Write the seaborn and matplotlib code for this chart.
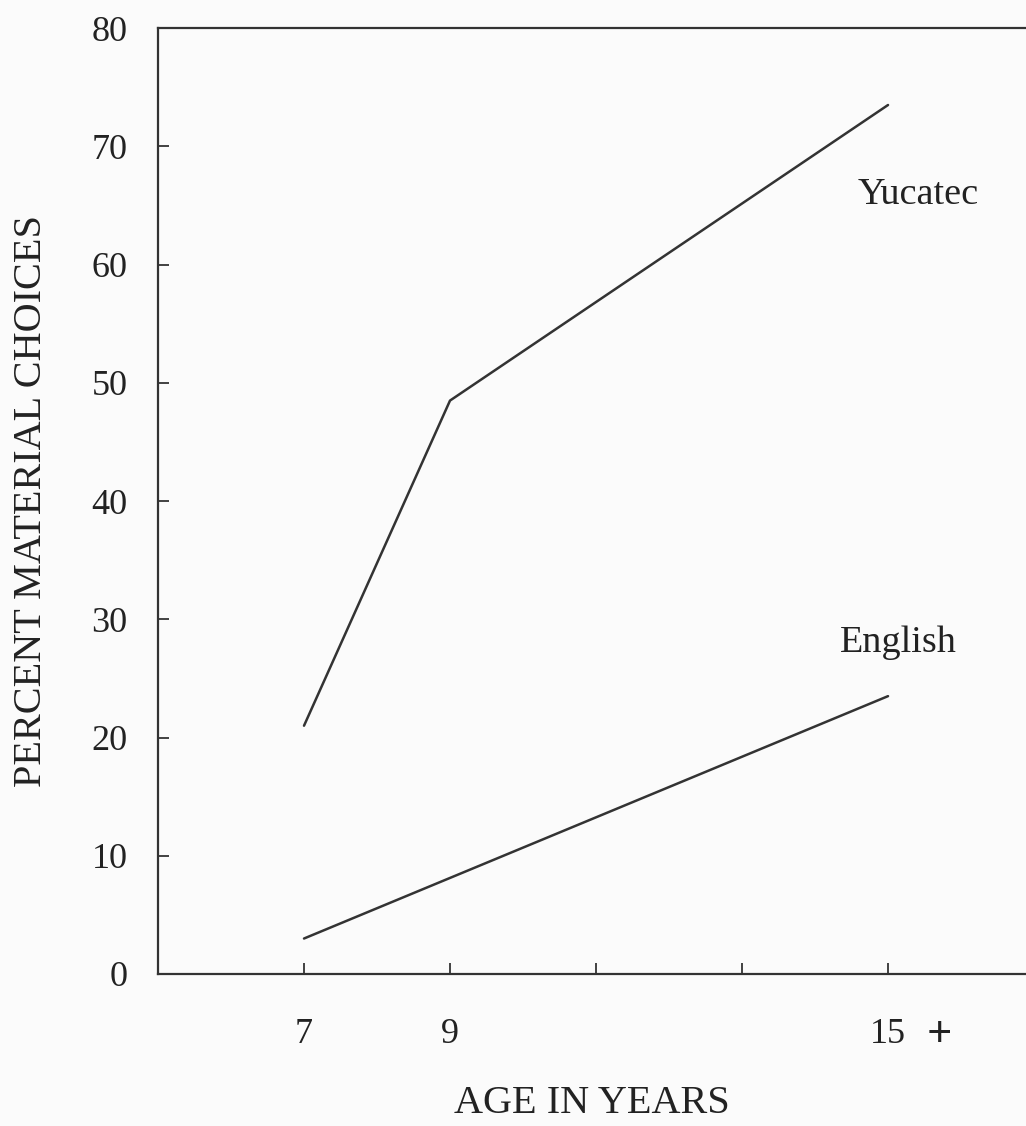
import matplotlib
matplotlib.use('Agg')
import matplotlib.pyplot as plt
import seaborn as sns
import pandas as pd

# data
ages_yucatec = [7, 9, 15]
pct_yucatec = [21, 48.5, 73.5]
ages_english = [7, 15]
pct_english = [3, 23.5]
x_ticks = [7, 9, 11, 13, 15]
x_tick_labels = ['7', '9', '', '', '15']
y_ticks = [0, 10, 20, 30, 40, 50, 60, 70, 80]

df = pd.concat([
    pd.DataFrame({'age': ages_yucatec, 'pct': pct_yucatec, 'lang': 'Yucatec'}),
    pd.DataFrame({'age': ages_english, 'pct': pct_english, 'lang': 'English'}),
])

sns.set_style('ticks')
plt.rcParams['font.family'] = ['Liberation Serif', 'DejaVu Serif']

fig = plt.figure(figsize=(10.26, 11.26), dpi=100, facecolor='#fbfbfb')
ax = fig.add_axes([0.154, 0.135, 0.846, 0.84])
ax.set_facecolor('#fbfbfb')

sns.lineplot(data=df, x='age', y='pct', hue='lang', units='lang', estimator=None,
             palette={'Yucatec': '#333333', 'English': '#333333'},
             linewidth=1.8, legend=False, ax=ax)

ax.set_xlim(5, 16.89)
ax.set_ylim(0, 80)
ax.set_xticks(x_ticks)
ax.set_xticklabels(x_tick_labels)
ax.set_yticks(y_ticks)
ax.tick_params(axis='both', direction='in', length=8, width=1.2, labelsize=26,
               colors='#222222')
ax.tick_params(axis='x', pad=32)
ax.tick_params(axis='y', pad=22)
ax.spines['right'].set_visible(False)
for s in ['left', 'bottom', 'top']:
    ax.spines[s].set_linewidth(1.6)
    ax.spines[s].set_color('#333333')

ax.set_xlabel('AGE IN YEARS', fontsize=29, labelpad=24, color='#222222')
ax.set_ylabel('PERCENT MATERIAL CHOICES', fontsize=29, labelpad=30, color='#222222')

# the "+" after 15 on the age axis
ax.annotate('+', xy=(15, 0), xycoords=('data', 'axes fraction'),
            xytext=(37, -44), textcoords='offset points', fontsize=32,
            fontweight='bold', ha='center', va='center', color='#222222')

ax.text(14.58, 65.9, 'Yucatec', fontsize=27.5, ha='left', va='center', color='#222222')
ax.text(14.34, 28.0, 'English', fontsize=27.5, ha='left', va='center', color='#222222')

fig.savefig('out.png', dpi=100, facecolor=fig.get_facecolor())
